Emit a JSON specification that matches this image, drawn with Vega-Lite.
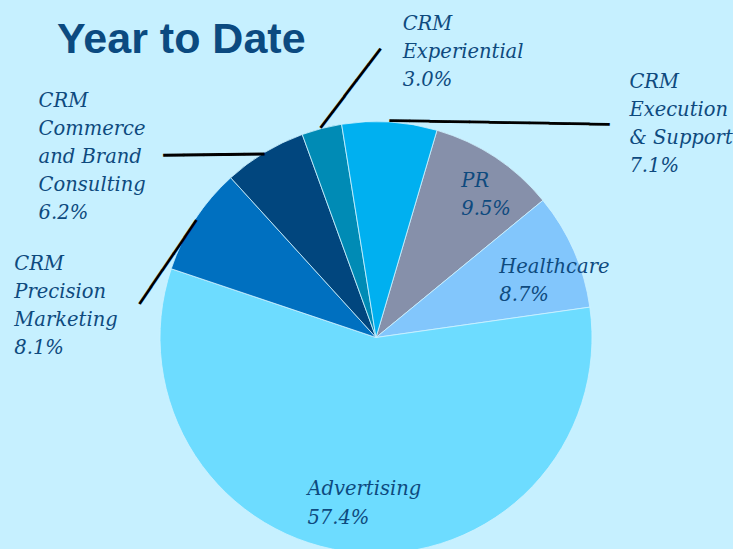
{
  "$schema": "https://vega.github.io/schema/vega-lite/v6.json",
  "autosize": {"type": "none"},
  "padding": {"left": 19, "top": 126, "right": 0, "bottom": 0},
  "width": 714,
  "height": 423,
  "background": "#C6F0FF",
  "config": {"view": {"stroke": null}},
  "title": {
    "text": "Year to Date",
    "anchor": "start",
    "frame": "group",
    "font": "Liberation Sans",
    "fontWeight": "bold",
    "fontSize": 43,
    "color": "#0B4A80",
    "baseline": "alphabetic",
    "dx": 38,
    "dy": 90,
    "offset": 0
  },
  "data": {
    "values": [
      {"seq": 1, "cat": "PR", "label": "PR\n9.5%", "pct": 9.5},
      {"seq": 2, "cat": "Healthcare", "label": "Healthcare\n8.7%", "pct": 8.7},
      {"seq": 3, "cat": "Advertising", "label": "Advertising\n57.4%", "pct": 57.4},
      {"seq": 4, "cat": "CRM Precision Marketing", "label": "CRM\nPrecision\nMarketing\n8.1%", "pct": 8.1},
      {"seq": 5, "cat": "CRM Commerce and Brand Consulting", "label": "CRM\nCommerce\nand Brand\nConsulting\n6.2%", "pct": 6.2},
      {"seq": 6, "cat": "CRM Experiential", "label": "CRM\nExperiential\n3.0%", "pct": 3.0},
      {"seq": 7, "cat": "CRM Execution & Support", "label": "CRM\nExecution\n& Support\n7.1%", "pct": 7.1}
    ]
  },
  "encoding": {
    "theta": {"field": "pct", "type": "quantitative", "stack": true, "scale": {"domain": [0, 100], "range": [0.2862, 6.5694]}},
    "order": {"field": "seq", "type": "quantitative"}
  },
  "layer": [
    {
      "mark": {"type": "arc", "outerRadius": 216, "stroke": "#CFF3FF", "strokeWidth": 0.8},
      "encoding": {
        "color": {
          "field": "cat", "type": "nominal", "legend": null,
          "scale": {
            "domain": ["PR", "Healthcare", "Advertising", "CRM Precision Marketing", "CRM Commerce and Brand Consulting", "CRM Experiential", "CRM Execution & Support"],
            "range": ["#8690AA", "#82C6FC", "#6DDCFF", "#0070C0", "#01467E", "#008BB5", "#00B0F0"]
          }
        }
      }
    },
    {
      "mark": {"type": "text", "radius": 216, "align": "left", "baseline": "middle", "font": "DejaVu Sans Mono", "fontSize": 33.2, "angle": 1, "color": "#000000"},
      "encoding": {"text": {"condition": {"test": "datum.cat === 'CRM Execution & Support'", "value": "───────────"}, "value": ""}}
    },
    {
      "mark": {"type": "text", "radius": 216, "align": "left", "baseline": "middle", "font": "DejaVu Sans Mono", "fontSize": 33.5, "angle": 179.4, "color": "#000000"},
      "encoding": {"text": {"condition": {"test": "datum.cat === 'CRM Commerce and Brand Consulting'", "value": "─────"}, "value": ""}}
    },
    {
      "mark": {"type": "text", "radius": 216, "align": "left", "baseline": "middle", "font": "DejaVu Sans Mono", "fontSize": 32.9, "angle": -52.8, "color": "#000000"},
      "encoding": {"text": {"condition": {"test": "datum.cat === 'CRM Experiential'", "value": "─────"}, "value": ""}}
    },
    {
      "mark": {"type": "text", "radius": 216, "align": "left", "baseline": "middle", "font": "DejaVu Sans Mono", "fontSize": 33.5, "angle": 124.3, "color": "#000000"},
      "encoding": {"text": {"condition": {"test": "datum.cat === 'CRM Precision Marketing'", "value": "─────"}, "value": ""}}
    },
    {
      "mark": {"type": "text", "radius": 160, "dx": -3, "dy": -17, "align": "left", "baseline": "alphabetic", "lineBreak": "\n", "lineHeight": 28, "font": "DejaVu Serif", "fontStyle": "italic", "fontSize": 19.5, "color": "#0E4A7E"},
      "encoding": {"text": {"condition": {"test": "datum.cat === 'PR'", "field": "label"}, "value": ""}}
    },
    {
      "mark": {"type": "text", "radius": 150, "dx": -14, "dy": -4, "align": "left", "baseline": "alphabetic", "lineBreak": "\n", "lineHeight": 28, "font": "DejaVu Serif", "fontStyle": "italic", "fontSize": 19.5, "color": "#0E4A7E"},
      "encoding": {"text": {"condition": {"test": "datum.cat === 'Healthcare'", "field": "label"}, "value": ""}}
    },
    {
      "mark": {"type": "text", "radius": 160, "dx": -54, "dy": -2, "align": "left", "baseline": "alphabetic", "lineBreak": "\n", "lineHeight": 29, "font": "DejaVu Serif", "fontStyle": "italic", "fontSize": 19.5, "color": "#0E4A7E"},
      "encoding": {"text": {"condition": {"test": "datum.cat === 'Advertising'", "field": "label"}, "value": ""}}
    },
    {
      "mark": {"type": "text", "radius": 260, "dx": -144, "dy": 75, "align": "left", "baseline": "alphabetic", "lineBreak": "\n", "lineHeight": 28, "font": "DejaVu Serif", "fontStyle": "italic", "fontSize": 19.5, "color": "#0E4A7E"},
      "encoding": {"text": {"condition": {"test": "datum.cat === 'CRM Precision Marketing'", "field": "label"}, "value": ""}}
    },
    {
      "mark": {"type": "text", "radius": 260, "dx": -203, "dy": -8, "align": "left", "baseline": "alphabetic", "lineBreak": "\n", "lineHeight": 28, "font": "DejaVu Serif", "fontStyle": "italic", "fontSize": 19.5, "color": "#0E4A7E"},
      "encoding": {"text": {"condition": {"test": "datum.cat === 'CRM Commerce and Brand Consulting'", "field": "label"}, "value": ""}}
    },
    {
      "mark": {"type": "text", "radius": 260, "dx": 92, "dy": -56, "align": "left", "baseline": "alphabetic", "lineBreak": "\n", "lineHeight": 28, "font": "DejaVu Serif", "fontStyle": "italic", "fontSize": 19.5, "color": "#0E4A7E"},
      "encoding": {"text": {"condition": {"test": "datum.cat === 'CRM Experiential'", "field": "label"}, "value": ""}}
    },
    {
      "mark": {"type": "text", "radius": 260, "dx": 237, "dy": 10, "align": "left", "baseline": "alphabetic", "lineBreak": "\n", "lineHeight": 28, "font": "DejaVu Serif", "fontStyle": "italic", "fontSize": 19.5, "color": "#0E4A7E"},
      "encoding": {"text": {"condition": {"test": "datum.cat === 'CRM Execution & Support'", "field": "label"}, "value": ""}}
    }
  ]
}
